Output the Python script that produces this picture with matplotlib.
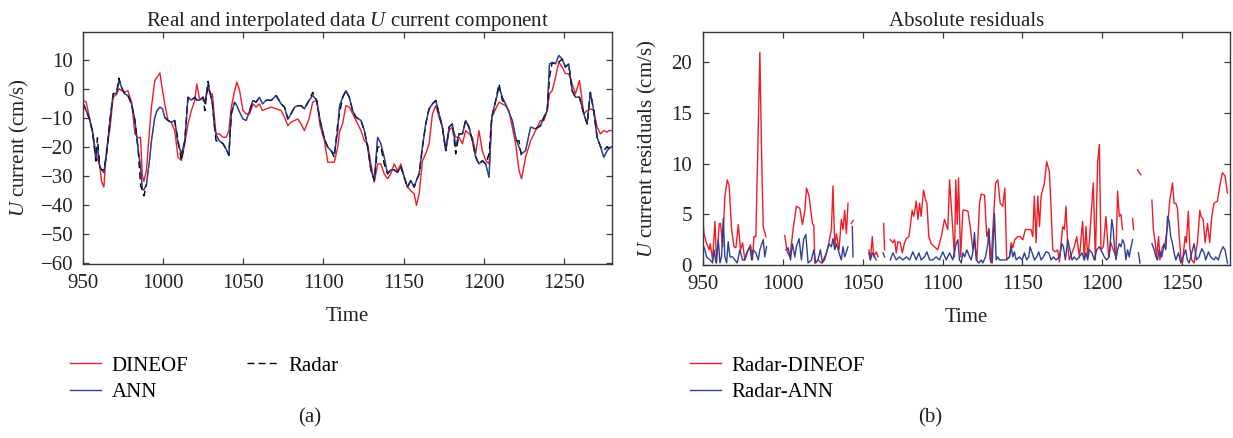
import numpy as np
import matplotlib
matplotlib.use("Agg")
import matplotlib.pyplot as plt

plt.rcParams["font.family"] = ["Liberation Serif", "DejaVu Serif"]
plt.rcParams["mathtext.fontset"] = "custom"
plt.rcParams["mathtext.rm"] = "Liberation Serif"
plt.rcParams["mathtext.it"] = "Liberation Serif:italic"

nan = np.nan

# (a) real and interpolated U current component
t_left = [950, 952, 954, 956, 958, 959, 960.5, 961.6, 963, 964.7,
          966.8, 968.8, 971, 972.4, 974, 976, 978, 980.3, 982.4, 984.4,
          985.9, 987, 988, 989.6, 991.7, 992.7, 994.8, 996.2, 998, 999.6,
          1001, 1003, 1005, 1007.2, 1009.3, 1011.4, 1013.5, 1015.5, 1017.6, 1019.7,
          1021, 1022.8, 1024.9, 1026, 1028, 1029.4, 1030.7, 1032, 1033, 1035,
          1037.3, 1039.4, 1041, 1042.5, 1044.6, 1046, 1047.7, 1049.8, 1051.8, 1054,
          1056, 1058, 1060, 1062, 1064.3, 1067.4, 1070.5, 1073.6, 1075.7, 1077.8,
          1079.8, 1082, 1084, 1086, 1088.1, 1091, 1093.3, 1095.8, 1097.9, 1100.6,
          1102.7, 1104.7, 1106.8, 1108.9, 1110, 1112, 1114, 1116.1, 1118.2, 1120.3,
          1123.4, 1125.5, 1127.5, 1129.6, 1131.7, 1133.8, 1135.8, 1137.9, 1140, 1142,
          1144.1, 1146.2, 1148.3, 1150.4, 1152.4, 1154.5, 1156.6, 1158, 1159.7, 1161.8,
          1163.8, 1165.9, 1168, 1170.1, 1172.1, 1174.2, 1176.3, 1178.4, 1180.4, 1182.5,
          1184.6, 1186.7, 1188.7, 1190.8, 1192.9, 1195, 1197, 1199.1, 1201.2, 1203.3,
          1205, 1207, 1209.5, 1211.6, 1213.6, 1215.7, 1217.8, 1219.9, 1222, 1223.6,
          1226.1, 1229.2, 1232.3, 1235.4, 1237.5, 1239.6, 1241, 1242.7, 1244.8, 1246.8,
          1248.9, 1251, 1253, 1255.1, 1257.2, 1259.7, 1262.4, 1264.5, 1266.5, 1268.6,
          1270.7, 1272.8, 1274.9, 1277, 1278, 1280]

radar = [-5, -7.6, -10.5, -15, -25, -17, -27, -28, -28, -22.5,
         -11, -1.8, -1.3, 3.6, 0.5, -1.8, -2.4, -5.3, -11, -21,
         -33.4, -35, -37, -33, nan, nan, nan, nan, nan, nan,
         -10, -11, -11.6, -11, -18, -24.8, -18, -3, -4, -3,
         -4, -4, -3, -7.6, 2.5, -1.8, -5, -13, -18, -18,
         -19, -21, -23, -8.7, -4.7, nan, nan, nan, nan, -7.6,
         -4.1, -4.7, -3, nan, -4, -4.1, -2.4, -5.3, -6.4, -10.5,
         -8.7, -6.4, -5.9, -5.9, -7, -4.1, -1.3, -4.1, -11, -17.4,
         -20.2, -21.4, -23.7, -12, -8.7, -3, -0.7, -3, -7.6, -9.9,
         -11, -14.5, -20, -28, -31.7, -20.2, -20, -26, -29.4, -28,
         -28, -28.9, -27, -30.6, -34, -31.7, -34, -31.7, -29.4, -20,
         -12.2, -7, -5.3, -4.1, -8.7, -13.3, -21.4, -13.3, -12.2, -22.5,
         -15.6, -15.6, -11, -13.3, -18, -23.7, -26, -25, -26, -22.5,
         -9.9, -5.3, 1.6, -4.1, -5.3, nan, nan, -18, -18, -23.7,
         nan, nan, -13.9, -12.8, -9.9, -7.6, 3.9, 9, 8.5, 9.1,
         10.2, 7.4, 8.5, -0.7, -3, -3, -8.7, -12.2, -1.3, -7.6,
         -16.8, -20, -21.4, -20, -20.8, -20]

ann = [-5, -7.6, -10.5, -15, -24, -20, -27, -28, -29, -22.5,
       -11, -2, -1.5, 2.8, 0.5, -1.8, -2.4, -5.3, -11, -21,
       -27, -34.6, -35, -33, -23.7, -18, -9.9, -7.6, -6.4, -7,
       -10, -11, -11.6, -11, -19, -22.5, -18, -3, -4, -3,
       -4, -4, -3, -5, 1.6, -1.8, -5, -13, -16, -18,
       -19, -21, -23, -8.7, -4.7, -5.9, -8.2, -10.5, -11, -7.6,
       -4.1, -4.7, -3, -5.3, -4, -4.1, -2.4, -5.3, -6.4, -10.5,
       -8.7, -6.4, -5.9, -5.9, -7, -4.1, -2.4, -4.1, -11, -17.4,
       -20.2, -21.4, -22.5, -14.5, -6, -3, -0.7, -3, -7.6, -9.9,
       -11, -14.5, -20, -28, -31.7, -16.8, -19, -23.7, -29.4, -28,
       -28, -28.9, -27, -30.6, -34, -31.7, -34, -31.7, -29.4, -20,
       -12.2, -7, -5.3, -4.1, -8.7, -13.3, -21.4, -13.3, -12.2, -20,
       -15.6, -15.6, -11, -13.3, -18, -23.7, -26, -24.8, -26, -30.6,
       -9.9, -5.3, 0.5, -3, -5.3, -8.2, -11, -16.8, -20.2, -22.5,
       -21.4, -13.3, -13.9, -12.8, -9.9, -7.6, 8.5, 9, 8.5, 11.4,
       10.2, 7.4, 8.5, -0.7, -3, -3, -8.7, -12.2, -1.3, -7.6,
       -16.8, -20, -23.7, -21.4, -20.8, -20]

dineof = [-4, -4.7, -10, -15, -22, -24, -27, -32, -34, -21,
          -14, -3, -2, 0, -0.7, -1.3, -0.7, -4.7, -15.6, -17,
          -16.8, -30, -32, -28, -13, -6.4, 2.8, 3.9, 5.4, -0.7,
          -5.3, -11, -11.6, -14.5, -23.7, -24.8, -19, -12.2, -7.6, -4.1,
          1.6, -4, -3, -5, 0, -1.8, -1.8, -10, -15.6, -15.6,
          -16.8, -16.8, -14.5, -6.4, -0.7, 2.2, -0.7, -7.6, -8.7, -8.7,
          -5.3, -6.4, -5.3, -7.6, -7, -6.4, -7, -7.6, -9.9, -12.8,
          -11.6, -11, -10.5, -12.2, -14.5, -10.5, -4.7, -4.1, -12.8, -18,
          -25.4, -25.4, -25.4, -20.2, -15, -12, -5.9, -6.4, -8.7, -11,
          -14.5, -18, -19, -26, -32.3, -26, -26, -29.4, -31.1, -29.4,
          -26, -28.3, -26, -30.6, -34, -35.2, -36.3, -40.3, -36.3, -24.8,
          -22.5, -19, -8.7, -5.9, -9.9, -13.3, -21.4, -14.5, -13.3, -16.8,
          -16.8, -19, -14.5, -15.6, -16.8, -22.5, -14.5, -21.4, -24.8, -26,
          -9.9, -7.6, -4.7, -5.3, -5.9, -7.6, -13.3, -19, -28.3, -31.1,
          -23.7, -18, -14.5, -11, -11, -7.6, -1.8, -0.7, 3.9, 9.1,
          7.4, 5.1, 5.1, 1.6, -1.8, 2.8, -8.7, -7.6, -7, -7.6,
          -13.3, -15.6, -14.5, -15, -14.5, -14.5]

# (b) absolute residuals
t_res_din = [949.8, 950.6, 952.3, 954, 954.5, 956, 957.5, 958.5, 960.2, 961,
             962.3, 963.7, 965.2, 966.4, 967.9, 969.4, 970.6, 972.1, 973.5, 974.8,
             976.2, 978.3, 979.8, 981, 981.9, 983.1, 984.6, 985.6, 986.6, 987.7,
             989.4, 995, 1001.2, 1002.7, 1004.4, 1006.4, 1008.5, 1010.6, 1012.3, 1013.8,
             1014.8, 1016.4, 1018.5, 1019.4, 1020, 1021, 1022, 1024.1, 1026.2, 1028.3,
             1030.4, 1031.4, 1032.5, 1033.5, 1035.2, 1036.6, 1037.7, 1038.7, 1039.8, 1040.8,
             1041.9, 1042.9, 1044, 1049, 1053.9, 1054.8, 1056, 1056.9, 1058.5, 1059.6,
             1061, 1063.1, 1063.7, 1065.5, 1067.3, 1068.9, 1070, 1071, 1072, 1073.5,
             1074.8, 1076.2, 1077.3, 1078.9, 1079.8, 1081, 1081.9, 1082.7, 1083.5, 1084.6,
             1085.6, 1086.6, 1088.1, 1089.4, 1090.2, 1091.4, 1092.9, 1095, 1097, 1099.2,
             1101.2, 1103.3, 1104.4, 1105.4, 1106.4, 1107.5, 1108.3, 1109.2, 1110, 1111.3,
             1112.7, 1114.4, 1115.9, 1117.3, 1119, 1120, 1121.5, 1123.2, 1124.2, 1126.3,
             1127.7, 1129, 1130.4, 1131.5, 1133.2, 1134.6, 1136.1, 1137.7, 1139, 1140.2,
             1141.9, 1143, 1144, 1145.2, 1147.1, 1148.6, 1150.2, 1151.9, 1154, 1155.4,
             1156.5, 1157.5, 1158.6, 1159.6, 1160.7, 1161.7, 1162.7, 1163.8, 1165.2, 1166.9,
             1167.9, 1169, 1170.7, 1172.1, 1173.2, 1175.2, 1176.3, 1177.3, 1178.4, 1179.4,
             1181.1, 1182.5, 1184, 1185.7, 1187.7, 1188.8, 1189.8, 1190.9, 1191.9, 1193,
             1194.4, 1195.7, 1197.1, 1198.2, 1199.2, 1200.7, 1202.3, 1204, 1205.4, 1206.9,
             1208.6, 1209.6, 1210.7, 1211.7, 1212.7, 1216, 1219, 1219.6, 1221, 1222.1,
             1223.2, 1224.2, 1228, 1231.1, 1232, 1233.2, 1234, 1235.3, 1236.1, 1237.7,
             1239.4, 1240.9, 1242.3, 1244, 1245, 1246.1, 1247.1, 1248.2, 1249.2, 1250.2,
             1251.9, 1252.7, 1253.9, 1254.8, 1256, 1257.5, 1259.6, 1261.1, 1261.9, 1263.2,
             1264.4, 1265.9, 1267.3, 1268.6, 1270, 1272.1, 1273.6, 1275.2, 1276.9, 1278.4]

res_din = [4.95, 3.1, 2.1, 1.5, 2.1, 0.5, 4.3, 0.2, 4.1, 4.1,
           1.8, 6.8, 8.4, 7.8, 3.5, 1.8, 1.7, 4.0, 1.5, 2.2,
           0.5, 1.5, 2.0, 0.5, 2.8, 2.8, 13.4, 21.0, 11.7, 3.8,
           2.8, nan, 2.9, 1.3, 0.8, 3.5, 5.8, 5.6, 4.0, 5.4,
           7.6, 6.8, 4.1, 3.9, 0.2, nan, 0.5, 0.2, 0.5, 1.8,
           3.5, 7.8, 1.8, 3.1, 1.5, 4.5, 3.5, 5.4, 3.1, 6.1,
           nan, 4.1, 4.4, nan, 1.5, 0.5, 2.8, 0.8, 1.3, 0.8,
           nan, 4.1, 1.5, nan, 2.5, 2.2, 2.5, 1.2, 2.3, 2.2,
           1.2, 2.2, 2.6, 2.8, 3.8, 5.4, 4.8, 5.4, 6.3, 4.5,
           6.1, 4.8, 7.4, 6.4, 6.1, 2.8, 2.1, 1.8, 1.5, 2.8,
           4.5, 3.5, 8.4, 6.0, 3.5, 0.8, 8.4, 4.0, 8.6, 0.8,
           5.4, 5.4, 5.3, 3.8, 1.5, 2.2, 0.5, 6.1, 7.0, 6.9,
           2.8, 3.5, 0.2, 3.5, 8.1, 8.4, 6.1, 5.8, 7.6, 0.5,
           0.8, 2.2, 1.7, 2.5, 2.8, 2.8, 2.5, 3.5, 3.5, 3.5,
           2.8, 6.8, 2.2, 6.8, 3.8, 6.8, 7.4, 8.1, 10.2, 9.2,
           5.8, 1.5, 1.3, 1.5, 0.3, 3.8, 3.5, 5.8, 1.8, 0.5,
           1.2, 1.8, 2.8, 0.8, 4.3, 0.5, 3.8, 0.8, 2.2, 4.8,
           8.1, 0.5, 10.1, 11.9, 1.5, 1.8, 4.8, 0.8, 2.2, 1.5,
           0.8, 7.3, 4.8, 5.0, 3.5, nan, 4.6, 3.5, nan, 9.4,
           9.1, 8.9, nan, 6.4, 3.5, 2.2, 0.8, 2.8, 0.5, 1.8,
           2.2, 3.8, 6.4, 8.1, 6.1, 6.1, 5.6, 2.8, 0.8, 0.2,
           2.8, 2.2, 5.3, 1.8, 0.5, 0.2, 2.2, 5.4, 4.8, 4.5,
           2.2, 4.1, 2.2, 4.8, 6.1, 6.3, 7.8, 9.1, 8.8, 7.1]

t_res_ann = [949.8, 951.2, 952.3, 954.4, 956, 956.9, 958.1, 959.6, 960.6, 961.6,
             962.7, 963.7, 964.8, 965.8, 966.9, 968.5, 970, 971.4, 973.1, 974.8,
             976.2, 977.3, 979.4, 980.4, 981.4, 983.1, 984.6, 985.6, 987.7, 988.7,
             989.8, 995, 1001.9, 1003.3, 1004.8, 1006, 1007.5, 1008.5, 1010.2, 1011.6,
             1013.1, 1014.4, 1015.8, 1017.9, 1019.4, 1020.6, 1022, 1023.5, 1024.8, 1026.2,
             1027.3, 1028.9, 1030.4, 1031.4, 1032.5, 1033.5, 1035.2, 1036.6, 1037.7, 1038.7,
             1039.8, 1040.8, 1041.9, 1043.5, 1043.9, 1049, 1053.9, 1054.8, 1056, 1057.5,
             1058.5, 1061, 1062.7, 1063.7, 1065.5, 1067.3, 1068.9, 1071, 1073.1, 1075.2,
             1077.3, 1079.4, 1081.4, 1083.5, 1085.2, 1086.6, 1088.7, 1090.2, 1091.9, 1093.9,
             1096, 1098.1, 1100.2, 1102.3, 1104.4, 1106.4, 1108.5, 1109.6, 1110.6, 1111.7,
             1112.7, 1113.8, 1115.2, 1116.9, 1117.9, 1119, 1120, 1121.1, 1122.7, 1124.2,
             1125.2, 1126.9, 1128.4, 1129, 1129.8, 1131.1, 1132.5, 1133.6, 1134.6, 1135.7,
             1137.7, 1139.8, 1141.9, 1143, 1144, 1145, 1146.1, 1148.2, 1149.8, 1151.3,
             1152.7, 1154, 1154.8, 1156.1, 1157.5, 1159, 1160.2, 1161.7, 1163.1, 1164.8,
             1166.5, 1168, 1169.4, 1171.1, 1173.2, 1174.8, 1175.7, 1176.9, 1178.4, 1179.8,
             1181.1, 1182.5, 1184, 1185.7, 1187.3, 1188.8, 1189.8, 1190.9, 1191.9, 1193.6,
             1195, 1196.5, 1198.2, 1199.8, 1201.3, 1202.7, 1204.4, 1206, 1206.9, 1207.5,
             1208.6, 1209.6, 1210.7, 1211.7, 1212.7, 1213.8, 1214.8, 1215.9, 1216.9, 1217.9,
             1219, 1221, 1222.7, 1223.6, 1228, 1231.1, 1232.5, 1233.6, 1234.6, 1235.7,
             1237.3, 1238.8, 1239.8, 1240.9, 1241.9, 1242.9, 1244, 1245, 1246.1, 1247.7,
             1249.2, 1252.3, 1253.3, 1254.4, 1257.5, 1259, 1260.6, 1262.3, 1263.8, 1264.8,
             1266.5, 1267.9, 1270, 1271.1, 1272.7, 1274.2, 1275.6, 1276.9, 1278.4]

res_ann = [2.1, 1.5, 0.8, 0.5, 0.2, 1.5, 0.2, 2.5, 0.2, 0.8,
           4.6, 0.8, 0.2, 2.3, 0.8, 0.8, 0.5, 0.2, 1.5, 0.5,
           0.5, 1.2, 1.8, 0.5, 1.5, 1.2, 0.5, 1.5, 2.5, 0.8,
           1.8, nan, 1.5, 1.7, 0.5, 2.1, 0.8, 1.8, 2.6, 0.5,
           2.6, 3.0, 0.2, 0.5, 1.5, 0.2, 0.5, 1.5, 0.2, 0.8,
           1.2, 2.1, 1.8, 2.6, 1.5, 2.1, 1.2, 0.5, 1.8, 0.8,
           1.3, 1.8, nan, 3.8, 0.8, nan, 1.2, 0.5, 1.2, 0.8,
           0.5, nan, 1.2, 0.8, nan, 0.5, 1.2, 0.5, 0.8, 0.5,
           0.8, 0.5, 1.3, 0.5, 1.2, 0.5, 0.8, 1.3, 0.5, 0.5,
           0.8, 0.5, 1.3, 0.5, 1.2, 0.5, 2.1, 2.5, 0.5, 0.2,
           1.2, 0.8, 1.5, 0.8, 0.5, 1.3, 3.2, 0.5, 0.2, 0.5,
           0.2, 0.8, 2.1, 3.6, 0.5, 0.2, 5.1, 0.5, 0.8, 0.5,
           0.5, 0.5, 0.8, 1.8, 0.8, 1.3, 0.5, 0.8, 0.5, 1.2,
           0.5, 0.8, 1.8, 1.2, 0.5, 0.8, 1.3, 0.5, 0.8, 1.3,
           1.2, 0.5, 0.8, 0.5, 0.8, 2.1, 1.8, 0.5, 2.5, 1.5,
           0.5, 0.8, 0.5, 0.8, 1.2, 0.5, 1.2, 0.5, 1.5, 1.2,
           0.5, 1.5, 1.8, 1.3, 0.8, 0.5, 0.8, 4.5, 3.5, 2.1,
           0.5, 1.5, 2.1, 1.8, 2.5, 2.1, 0.5, 1.5, 0.8, 1.7,
           2.5, nan, 1.2, 0.2, nan, 2.1, 1.5, 0.8, 0.5, 1.5,
           0.8, 2.1, 1.5, 4.8, 4.3, 2.8, 2.1, 1.2, 0.5, 1.2,
           0.2, 1.5, 0.5, 0.2, 2.1, 0.5, 0.8, 1.6, 1.2, 0.5,
           1.3, 0.8, 0.5, 0.8, 0.5, 1.3, 1.8, 1.5, 0.2]

red = "#ee1c25"
blue = "#2e3f95"
axis_color = "#3a3a3a"
text_color = "#222222"
fs = 15

fig = plt.figure(figsize=(12.33, 4.38), dpi=100)
ax1 = fig.add_axes([83 / 1233, 1 - 264 / 438, 529 / 1233, 232 / 438])
ax2 = fig.add_axes([703 / 1233, 1 - 265 / 438, 527 / 1233, 233 / 438])

l_din, = ax1.plot(t_left, dineof, color=red, lw=1.0, label="DINEOF")
l_ann, = ax1.plot(t_left, ann, color=blue, lw=1.0, label="ANN")
l_rad, = ax1.plot(t_left, radar, color="black", lw=1.0, ls=(0, (5, 3)), label="Radar")
ax1.plot(t_left, ann, color=blue, lw=0.9, alpha=0.6)

r_din, = ax2.plot(t_res_din, res_din, color=red, lw=1.0, label="Radar-DINEOF")
r_ann, = ax2.plot(t_res_ann, res_ann, color=blue, lw=1.0, label="Radar-ANN")

ax1.set_xlim(950, 1280)
ax1.set_ylim(-60.5, 19.5)
ax1.set_yticks(np.arange(-60, 11, 10))
ax2.set_xlim(950, 1280)
ax2.set_ylim(0, 23)
ax2.set_yticks([0, 5, 10, 15, 20])

for ax in (ax1, ax2):
    ax.set_xticks([950, 1000, 1050, 1100, 1150, 1200, 1250])
    ax.tick_params(direction="in", top=True, right=True, length=4.5, width=0.9,
                   labelsize=fs, colors=axis_color, labelcolor=text_color)
    ax.tick_params(axis="x", pad=7)
    for sp in ax.spines.values():
        sp.set_color(axis_color)
        sp.set_linewidth(1.0)
    ax.set_xlabel("Time", fontsize=fs, color=text_color, labelpad=10)

ax1.tick_params(axis="y", pad=7)
ax2.tick_params(axis="y", pad=8)
ax1.set_ylabel("$U$ current (cm/s)", fontsize=fs, color=text_color, labelpad=7)
ax2.set_ylabel("$U$ current residuals (cm/s)", fontsize=fs, color=text_color, labelpad=9)
ax1.set_title("Real and interpolated data $U$ current component", fontsize=fs,
              color=text_color, pad=4)
ax2.set_title("Absolute residuals", fontsize=fs, color=text_color, pad=4)

leg_kw = dict(frameon=False, fontsize=fs, handlelength=1.5, handletextpad=0.5,
              labelspacing=0.35, borderpad=0, borderaxespad=0)
fig.legend([l_din, l_ann, l_rad], ["DINEOF", "ANN", "Radar"], ncol=2,
           columnspacing=2.8, loc="upper left",
           bbox_to_anchor=(70 / 1233, 1 - 356 / 438), **leg_kw)
fig.legend([r_din, r_ann], ["Radar-DINEOF", "Radar-ANN"], loc="upper left",
           bbox_to_anchor=(690 / 1233, 1 - 356 / 438), **leg_kw)

fig.text(310 / 1233, 1 - 418 / 438, "(a)", ha="center", va="center", fontsize=fs,
         color=text_color)
fig.text(930 / 1233, 1 - 418 / 438, "(b)", ha="center", va="center", fontsize=fs,
         color=text_color)

fig.savefig("out.png", dpi=100)
